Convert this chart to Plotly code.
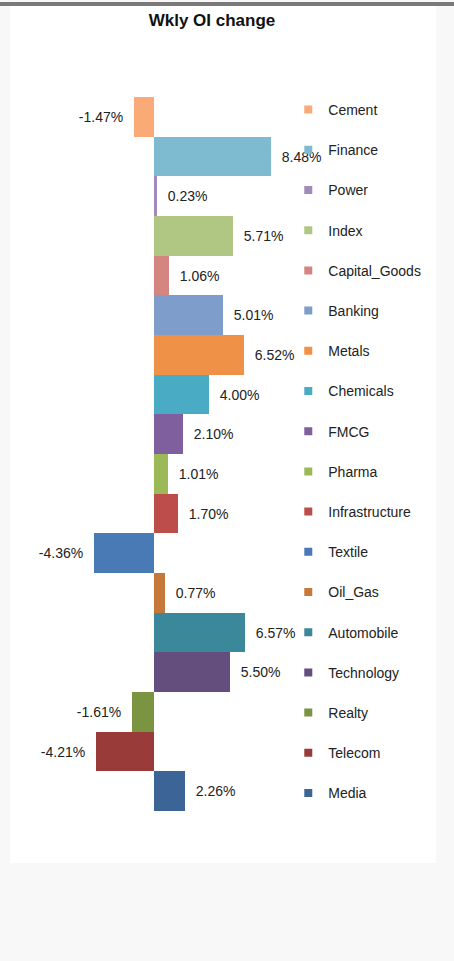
import plotly.graph_objects as go

categories = ["Cement", "Finance", "Power", "Index", "Capital_Goods", "Banking",
              "Metals", "Chemicals", "FMCG", "Pharma", "Infrastructure", "Textile",
              "Oil_Gas", "Automobile", "Technology", "Realty", "Telecom", "Media"]
values = [-1.47, 8.48, 0.23, 5.71, 1.06, 5.01, 6.52, 4.00, 2.10, 1.01, 1.70,
          -4.36, 0.77, 6.57, 5.50, -1.61, -4.21, 2.26]
labels = ["-1.47%", "8.48%", "0.23%", "5.71%", "1.06%", "5.01%", "6.52%", "4.00%",
          "2.10%", "1.01%", "1.70%", "-4.36%", "0.77%", "6.57%", "5.50%", "-1.61%",
          "-4.21%", "2.26%"]
colors = ["#F9AA77", "#7EBBD0", "#A08BBB", "#AFC783", "#D5857F", "#7F9DCB",
          "#EF9146", "#4AABC5", "#7F5F9E", "#9BBA57", "#BD4D4A", "#4A7AB6",
          "#C6783A", "#3A8899", "#634E7D", "#7A9442", "#983B39", "#3C6497"]

FONT = "Liberation Sans, Arial, sans-serif"
NB = "\u00a0\u00a0"

fig = go.Figure()
for cat, v, lab, c in zip(categories, values, labels, colors):
    txt = (NB + lab) if v >= 0 else (lab + NB)
    fig.add_trace(go.Bar(
        y=[cat], x=[v], orientation="h", name=cat, legendgroup=cat,
        showlegend=False, marker=dict(color=c, line=dict(width=0)),
        text=[txt], textposition="outside", constraintext="none",
        cliponaxis=False, textfont=dict(family=FONT, size=14, color="#222222"),
        hoverinfo="skip"))
    fig.add_trace(go.Scatter(
        x=[None], y=[None], mode="markers", name=cat, legendgroup=cat,
        marker=dict(symbol="square", size=8, color=c), showlegend=True))

fig.update_layout(
    width=454, height=961,
    margin=dict(l=44, r=162, t=97, b=150, pad=0),
    paper_bgcolor="#f8f8f8", plot_bgcolor="rgba(0,0,0,0)",
    barmode="overlay", bargap=0,
    showlegend=True,
    legend=dict(x=0.985, xanchor="left", y=1.0 + 3 / 714, yanchor="top",
                font=dict(family=FONT, size=14, color="#222222"),
                tracegroupgap=19, bgcolor="rgba(0,0,0,0)",
                itemclick=False, itemdoubleclick=False),
    title=dict(text="<b>Wkly OI change</b>", xref="container", yref="container",
               x=212 / 454, xanchor="center", y=1 - 20 / 961, yanchor="middle",
               font=dict(family=FONT, size=17, color="#111111")),
    xaxis=dict(range=[-8, 10], showgrid=False, zeroline=False,
               showticklabels=False, showline=False, ticks=""),
    yaxis=dict(type="category", categoryorder="array", categoryarray=categories,
               range=[17.5, -0.5], showgrid=False, zeroline=False,
               showticklabels=False, showline=False, ticks=""),
    shapes=[
        dict(type="rect", xref="paper", yref="paper", layer="below",
             x0=(10 - 44) / 248, x1=(436 - 44) / 248,
             y0=(961 - 150 - 863) / 714, y1=(961 - 150 - 6) / 714,
             fillcolor="white", line=dict(width=0)),
        dict(type="rect", xref="paper", yref="paper", layer="above",
             x0=(0 - 44) / 248, x1=(454 - 44) / 248,
             y0=(961 - 150 - 6) / 714, y1=(961 - 150 - 2) / 714,
             fillcolor="#7a7a7a", line=dict(width=0)),
    ],
)

try:
    fig.update_layout(legend_maxheight=900)
except Exception:
    fig.update_layout(legend_tracegroupgap=18.6)

fig.write_html("out.html")
